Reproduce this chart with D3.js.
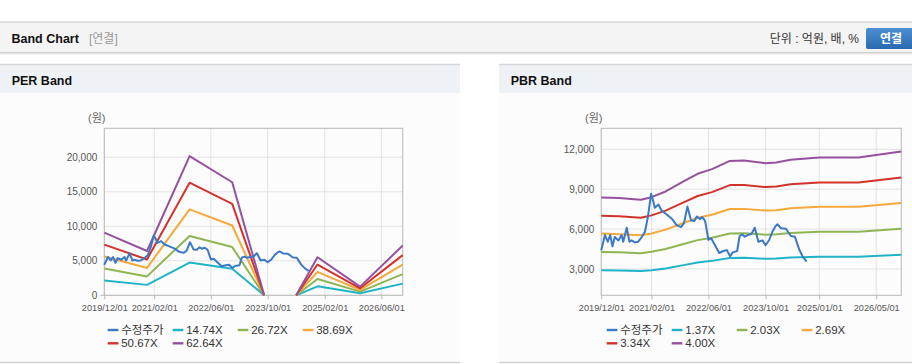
<!DOCTYPE html>
<html><head><meta charset="utf-8">
<script src="https://cdn.jsdelivr.net/npm/d3@7"></script>
<style>
body{margin:0;background:#fff;}
svg{display:block;font-family:"Liberation Sans",Arial,"Noto Sans CJK KR",sans-serif;}
</style>
</head><body>
<svg id="c" width="912" height="364"></svg>
<script>
// ---------- DATA ----------
const xTickPER = ["2019-12-01","2021-02-01","2022-06-01","2023-10-01","2025-02-01","2026-06-01"];
const xTickPBR = ["2019-12-01","2021-02-01","2022-06-01","2023-10-01","2025-01-01","2026-05-01"];
const yTickPER = [0, 5000, 10000, 15000, 20000];
const yTickPBR = [3000, 6000, 9000, 12000];

const legendPER = ["수정주가","14.74X","26.72X","38.69X","50.67X","62.64X"];
const legendPBR = ["수정주가","1.37X","2.03X","2.69X","3.34X","4.00X"];
const seriesColors = ["#3b78c6","#1fb3c8","#8fb552","#f5a93a","#d3322b","#95519d"];

// 수정주가 (adjusted price), shared by both charts
const priceDates = ["2019-12-01","2020-01-01","2020-01-25","2020-02-15","2020-03-05","2020-03-25","2020-04-25","2020-05-22","2020-06-05","2020-07-05","2020-07-28","2020-08-15","2020-09-12","2020-10-10","2020-11-10","2020-12-07","2021-01-01","2021-01-28","2021-02-10","2021-03-01","2021-04-01","2021-04-28","2021-06-10","2021-07-22","2021-09-03","2021-10-10","2021-11-05","2021-12-04","2022-01-04","2022-02-01","2022-02-22","2022-03-20","2022-04-10","2022-05-04","2022-06-01","2022-06-25","2022-07-20","2022-09-01","2022-10-06","2022-11-04","2022-12-04","2022-12-25","2023-02-01","2023-02-22","2023-03-16","2023-04-07","2023-05-07","2023-06-04","2023-07-01","2023-08-01","2023-09-04","2023-10-01","2023-11-01","2023-11-28","2023-12-22","2024-01-10","2024-02-10","2024-03-22","2024-05-04","2024-06-07","2024-07-13","2024-08-13","2024-09-15"];
const priceValues = [4400,5550,5050,5550,4700,5400,5150,5550,5050,6100,5050,5150,5000,5050,5400,5800,6900,8650,8300,7600,7850,7400,7100,6800,6300,6150,6450,7700,6650,6600,6950,6750,6900,6600,5200,5300,4900,4200,4350,4420,3950,4250,4350,5480,5600,5430,5560,5650,6100,5050,5150,4780,5180,5800,6180,6360,6060,6030,5480,5430,4480,3930,3550];

// PER band (null = no value)
const perBandDates = ["2019-12-01","2020-12-01","2021-12-01","2022-12-01","2023-09-01","2024-01-01","2024-06-01","2024-12-01","2025-12-01","2026-12-01"];
const per1474 = [2137,1511,4746,3855,0,null,0,1297,295,1695];
const per2672 = [3874,2739,8604,6987,0,null,0,2351,534,3073];
const per3869 = [5610,3966,12458,10117,0,null,0,3405,774,4449];
const per5067 = [7347,5194,16316,13250,0,null,0,4459,1013,5827];
const per6264 = [9083,6421,20170,16380,0,null,0,5512,1253,7204];

// PBR band
const pbrBandDates = ["2019-12-01","2020-05-01","2020-11-01","2021-02-01","2021-06-01","2021-11-01","2022-03-01","2022-07-01","2022-12-01","2023-04-01","2023-10-01","2024-01-01","2024-05-01","2025-01-01","2025-12-01","2026-12-01"];
const pbr137 = [2900,2880,2840,2900,3040,3290,3490,3610,3830,3840,3770,3790,3860,3920,3920,4070];
const pbr203 = [4280,4250,4190,4290,4500,4880,5170,5350,5670,5680,5580,5610,5710,5800,5800,6030];
const pbr269 = [5660,5620,5540,5670,5960,6460,6850,7080,7510,7520,7390,7420,7560,7680,7680,7960];
const pbr334 = [7010,6970,6860,7030,7390,8010,8490,8780,9310,9320,9160,9200,9370,9510,9510,9880];
const pbr400 = [8380,8330,8200,8400,8830,9580,10160,10510,11130,11150,10960,11010,11210,11380,11380,11830];

// ---------- DRAW ----------
const svg = d3.select("#c");
const parse = d3.timeParse("%Y-%m-%d");

// top bar
svg.append("rect").attr("x",0).attr("y",22).attr("width",912).attr("height",30).attr("fill","#f4f4f4");
svg.append("line").attr("x1",0).attr("x2",912).attr("y1",22).attr("y2",22).attr("stroke","#c4c4c4").attr("stroke-width",1.2);
svg.append("line").attr("x1",0).attr("x2",912).attr("y1",52.5).attr("y2",52.5).attr("stroke","#cfcfcf");
svg.append("line").attr("x1",0).attr("x2",912).attr("y1",53.5).attr("y2",53.5).attr("stroke","#e6e6e6");
svg.append("line").attr("x1",0).attr("x2",912).attr("y1",54.5).attr("y2",54.5).attr("stroke","#f2f2f2");
svg.append("text").attr("x",11.5).attr("y",43).attr("font-size",12.5).attr("font-weight","bold").attr("fill","#111").text("Band Chart");
svg.append("text").attr("x",89).attr("y",43).attr("font-size",12).attr("fill","#9a9a9a").text("[연결]");
svg.append("text").attr("x",859).attr("y",43).attr("font-size",12).attr("text-anchor","end").attr("fill","#333").text("단위 : 억원, 배, %");
const defs = svg.append("defs");
const grad = defs.append("linearGradient").attr("id","btn").attr("x1",0).attr("x2",0).attr("y1",0).attr("y2",1);
grad.append("stop").attr("offset","0%").attr("stop-color","#4d8fd3");
grad.append("stop").attr("offset","100%").attr("stop-color","#2a69ad");
svg.append("rect").attr("x",866).attr("y",28).attr("width",48).attr("height",21).attr("rx",2).attr("fill","url(#btn)");
svg.append("text").attr("x",891).attr("y",43).attr("font-size",12).attr("font-weight","bold").attr("text-anchor","middle").attr("fill","#fff").text("연결");

function panel(x0, x1, title) {
  svg.append("rect").attr("x",x0).attr("y",93).attr("width",x1-x0).attr("height",269).attr("fill","#fcfcfc");
  svg.append("rect").attr("x",x0).attr("y",65).attr("width",x1-x0).attr("height",28).attr("fill","#eef2f7");
  svg.append("line").attr("x1",x0).attr("x2",x1).attr("y1",64.5).attr("y2",64.5).attr("stroke","#d6d6d6").attr("stroke-width",1.4);
  svg.append("line").attr("x1",x0).attr("x2",x1).attr("y1",362.5).attr("y2",362.5).attr("stroke","#d0d0d0").attr("stroke-width",1.4);
  svg.append("text").attr("x",x0+11.7).attr("y",85).attr("font-size",12.5).attr("font-weight","bold").attr("fill","#111").text(title);
}
panel(0, 460, "PER Band");
panel(499, 912, "PBR Band");

function drawChart(cfg) {
  const top = 128.3, bottom = 295.3;
  const x = d3.scaleTime().domain([parse("2019-12-01"), parse("2026-12-01")]).range([cfg.left, cfg.right]);
  const y = d3.scaleLinear().domain(cfg.yDomain).range([bottom, top]);
  const g = svg.append("g");

  // grid
  g.selectAll(".hg").data(cfg.yTicks).join("line")
    .attr("x1",cfg.left).attr("x2",cfg.right).attr("y1",d=>y(d)).attr("y2",d=>y(d))
    .attr("stroke","#e3e3e3").attr("stroke-width",1);
  g.selectAll(".vg").data(cfg.xTicks.map(parse)).join("line")
    .attr("x1",d=>x(d)).attr("x2",d=>x(d)).attr("y1",top).attr("y2",bottom)
    .attr("stroke","#e3e3e3").attr("stroke-width",1);
  g.append("rect").attr("x",cfg.left).attr("y",top).attr("width",cfg.right-cfg.left).attr("height",bottom-top)
    .attr("fill","none").attr("stroke","#b8b8b8").attr("stroke-width",1);
  if (cfg.zeroTick) {
    g.append("line").attr("x1",cfg.left-4).attr("x2",cfg.left).attr("y1",bottom).attr("y2",bottom).attr("stroke","#b8b8b8");
  }

  // axes
  const ya = d3.axisLeft(y).tickValues(cfg.yTicks).tickSize(0).tickPadding(7).tickFormat(d3.format(","));
  const yg = g.append("g").attr("transform",`translate(${cfg.left},0)`).call(ya);
  yg.select(".domain").remove();
  yg.selectAll("text").attr("font-size",10).attr("fill","#555").attr("font-family","'Liberation Sans',Arial,sans-serif");

  const xa = d3.axisBottom(x).tickValues(cfg.xTicks.map(parse)).tickSize(4).tickPadding(5).tickFormat(d3.timeFormat("%Y/%m/%d"));
  const xg = g.append("g").attr("transform",`translate(0,${bottom})`).call(xa);
  xg.select(".domain").remove();
  xg.selectAll("line").attr("stroke","#b8b8b8");
  xg.selectAll("text").attr("font-size",9.2).attr("fill","#555").attr("font-family","'Liberation Sans',Arial,sans-serif");

  g.append("text").attr("x",cfg.unitX).attr("y",122).attr("font-size",11).attr("fill","#666").text("(원)");

  const line = d3.line().defined(d=>d.v!=null).x(d=>x(d.date)).y(d=>y(d.v));
  cfg.bands.forEach((vals,i)=>{
    const data = cfg.bandDates.map((d,j)=>({date:parse(d), v:vals[j]}));
    g.append("path").datum(data).attr("d",line).attr("fill","none")
      .attr("stroke",seriesColors[i+1]).attr("stroke-width",2).attr("stroke-linejoin","round");
  });
  const pdata = priceDates.map((d,j)=>({date:parse(d), v:priceValues[j]}));
  g.append("path").datum(pdata).attr("d",line).attr("fill","none")
    .attr("stroke",seriesColors[0]).attr("stroke-width",2).attr("stroke-linejoin","round");

  // legend
  cfg.legend.forEach((lab,i)=>{
    const lx = cfg.legendX + (i%4)*65, ly = 330 + Math.floor(i/4)*13.3;
    g.append("rect").attr("x",lx).attr("y",ly-1.2).attr("width",10.7).attr("height",2.4).attr("fill",seriesColors[i]);
    g.append("text").attr("x",lx+13.5).attr("y",ly).attr("dy","0.36em").attr("font-size",11.5).attr("fill","#333").text(lab);
  });
}

drawChart({left:104.3, right:402.7, yDomain:[0,24200], yTicks:yTickPER, xTicks:xTickPER,
  bandDates:perBandDates, bands:[per1474,per2672,per3869,per5067,per6264], legend:legendPER,
  legendX:107.7, unitX:88, zeroTick:true});
drawChart({left:601.3, right:901.3, yDomain:[1020,13580], yTicks:yTickPBR, xTicks:xTickPBR,
  bandDates:pbrBandDates, bands:[pbr137,pbr203,pbr269,pbr334,pbr400], legend:legendPBR,
  legendX:606.7, unitX:585, zeroTick:false});
</script>
</body></html>
